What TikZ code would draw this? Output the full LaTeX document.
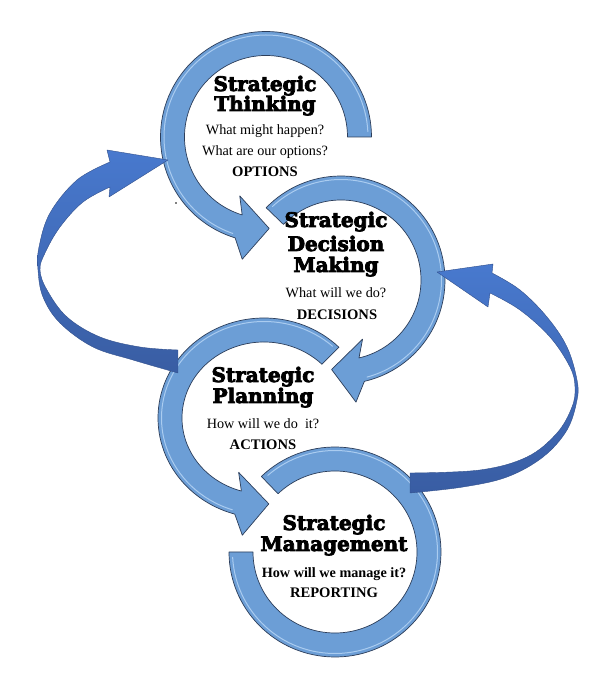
\documentclass[tikz,border=0pt]{standalone}
\usepackage{fontspec}
\setmainfont{Liberation Serif}
\newfontfamily\slab{DejaVu Serif}[BoldFeatures={FakeBold=4}]
\usetikzlibrary{calc}
\definecolor{ringblue}{RGB}{108,158,214}
\definecolor{ringedge}{RGB}{45,62,90}
\definecolor{ringhi}{RGB}{170,204,240}
\definecolor{bigtop}{RGB}{72,121,206}
\definecolor{bigbot}{RGB}{57,93,163}
\definecolor{bigedge}{RGB}{50,80,140}
\tikzset{
  title/.style={font=\slab\bfseries\fontsize{20}{21}\selectfont, anchor=base, inner sep=0pt},
  question/.style={font=\fontsize{14.2}{15}\selectfont, anchor=base, inner sep=0pt},
  boldquestion/.style={font=\bfseries\fontsize{14.2}{15}\selectfont, anchor=base, inner sep=0pt},
  outcome/.style={font=\bfseries\fontsize{14.6}{15}\selectfont, anchor=base, inner sep=0pt},
  ringshape/.style={fill=ringblue, draw=ringedge, line width=0.7pt, line join=round},
  ringgloss/.style={draw=ringhi, line width=1pt, line cap=round},
  bigarrow/.style={top color=bigtop, bottom color=bigbot, draw=bigedge, line width=0.4pt, line join=round},
}
% #1 centre, #2 rx, #3 ry, #4 start angle, #5 end angle, #6 sign (+1 ccw, -1 cw), #7 head (1/0)
\newcommand{\ringarrow}[7]{%
  \begin{scope}[shift={(#1)}]
    \pgfmathsetmacro\Rxo{#2+12}\pgfmathsetmacro\Ryo{#3+12}
    \pgfmathsetmacro\Rxi{#2-12}\pgfmathsetmacro\Ryi{#3-12}
    \pgfmathsetmacro\Rxg{#2+8.5}\pgfmathsetmacro\Ryg{#3+8.5}
    \ifnum#7=1
      \pgfmathsetmacro\Aib{#5-#6*7}\pgfmathsetmacro\Aob{#5+#6*6}\pgfmathsetmacro\Atip{#5+#6*19}
      \pgfmathsetmacro\Rxib{#2-29}\pgfmathsetmacro\Ryib{#3-29}
      \pgfmathsetmacro\Rxob{#2+31}\pgfmathsetmacro\Ryob{#3+31}
      \pgfmathsetmacro\Rxt{#2-2}\pgfmathsetmacro\Ryt{#3-2}
      \path[ringshape] ({\Rxo*cos(#4)},{\Ryo*sin(#4)}) arc[start angle=#4, end angle=#5, x radius=\Rxo, y radius=\Ryo]
        -- ({\Rxob*cos(\Aob)},{\Ryob*sin(\Aob)}) -- ({\Rxt*cos(\Atip)},{\Ryt*sin(\Atip)}) -- ({\Rxib*cos(\Aib)},{\Ryib*sin(\Aib)})
        -- ({\Rxi*cos(#5)},{\Ryi*sin(#5)}) arc[start angle=#5, end angle=#4, x radius=\Rxi, y radius=\Ryi] -- cycle;
      \pgfmathsetmacro\Ags{#4+#6*3}\pgfmathsetmacro\Age{#5-#6*2}
    \else
      \path[ringshape] ({\Rxo*cos(#4)},{\Ryo*sin(#4)}) arc[start angle=#4, end angle=#5, x radius=\Rxo, y radius=\Ryo]
        -- ({\Rxi*cos(#5)},{\Ryi*sin(#5)}) arc[start angle=#5, end angle=#4, x radius=\Rxi, y radius=\Ryi] -- cycle;
      \pgfmathsetmacro\Ags{#4+#6*3}\pgfmathsetmacro\Age{#5-#6*3}
    \fi
    \draw[ringgloss] ({\Rxg*cos(\Ags)},{\Ryg*sin(\Ags)}) arc[start angle=\Ags, end angle=\Age, x radius=\Rxg, y radius=\Ryg];
  \end{scope}}
\begin{document}
\begin{tikzpicture}[x=1pt, y=1pt]
  \useasboundingbox (0,0) rectangle (603,689);
  \fill[white] (0,0) rectangle (603,689);
  \coordinate (c1) at (266,552);
  \coordinate (c2) at (341,409);
  \coordinate (c3) at (264,271);
  \coordinate (c4) at (335,137);

  % circular arrows
  \ringarrow{c4}{94}{93}{134}{-180}{-1}{0}
  \ringarrow{c3}{94}{88}{45}{254}{1}{1}
  \ringarrow{c2}{92}{92}{136}{-77}{-1}{1}
  \ringarrow{c1}{93.5}{93.5}{0}{253}{1}{1}

  % large feedback arrows
  \path[bigarrow] (168,529) -- (107,539) -- (110,527)
    -- plot[smooth, tension=0.6] coordinates {(110,527) (77,509) (50,476) (39,442) (38,419) (43,392) (60,366) (93,342) (133,329) (178,316)}
    -- (178,339)
    -- plot[smooth, tension=0.6] coordinates {(178,339) (140,342) (100,352) (67,372) (47,399) (40,419) (45,436) (60,462) (83,487) (110,502)}
    -- (109,492) -- cycle;
  \path[bigarrow] (437,417) -- (493,425) -- (492,416)
    -- plot[smooth, tension=0.6] coordinates {(492,416) (520,399) (547,372) (567,342) (577,309) (577,289) (567,259) (543,232) (507,212) (463,202) (410,196)}
    -- (410,216)
    -- plot[smooth, tension=0.6] coordinates {(410,216) (480,219) (527,232) (557,256) (572,282) (575,302) (570,322) (550,352) (520,379) (490,396)}
    -- (488,382) -- cycle;

  \fill (176,486) circle (0.8);

  % texts
  \node[title] (t1a) at (265,598) {Strategic};
  \node[title] (t1b) at (265,578) {Thinking};
  \node[question] (t1c) at (265,554) {What might happen?};
  \node[question] (t1d) at (265,533) {What are our options?};
  \node[outcome] (t1e) at (265,512) {OPTIONS};

  \node[title] (t2a) at (336,462) {Strategic};
  \node[title] (t2b) at (336,438) {Decision};
  \node[title] (t2c) at (336,417) {Making};
  \node[question] (t2d) at (336,391) {What will we do?};
  \node[outcome] (t2e) at (337,369) {DECISIONS};

  \node[title] (t3a) at (263,307) {Strategic};
  \node[title] (t3b) at (263,286) {Planning};
  \node[question] (t3c) at (263,260) {How will we do\ \ it?};
  \node[outcome] (t3d) at (263,239) {ACTIONS};

  \node[title] (t4a) at (334,159) {Strategic};
  \node[title] (t4b) at (334,138) {Management};
  \node[boldquestion] (t4c) at (334,111) {How will we manage it?};
  \node[outcome] (t4d) at (334,91) {REPORTING};
\end{tikzpicture}
\end{document}
